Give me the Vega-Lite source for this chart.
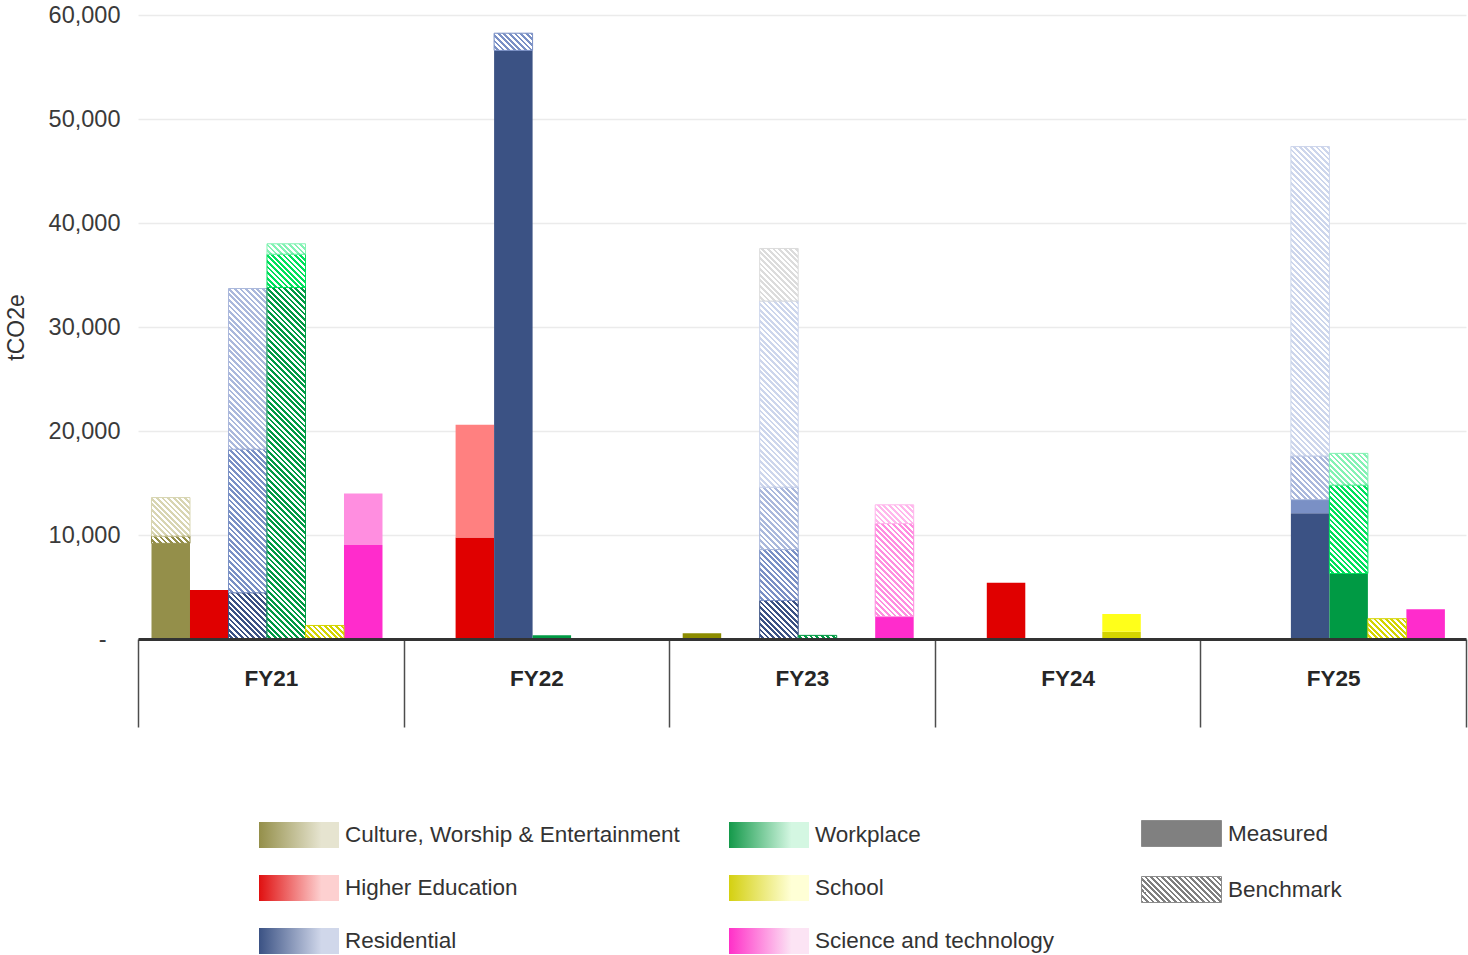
{
  "$schema": "https://vega.github.io/schema/vega-lite/v6.json",
  "width": 1328,
  "height": 624,
  "autosize": {"type": "none"},
  "padding": {"left": 138, "top": 15, "right": 2, "bottom": 316},
  "background": "white",
  "config": {
    "view": {"stroke": null},
    "font": "Liberation Sans",
    "axis": {"labelFont": "Liberation Sans", "titleFont": "Liberation Sans"},
    "legend": {
      "labelFont": "Liberation Sans",
      "labelFontSize": 22.5,
      "labelColor": "#333333",
      "padding": 0,
      "labelOffset": 6,
      "labelLimit": 500,
      "symbolOffset": 0
    }
  },
  "params": [
    {
      "name": "hatchStops",
      "value": [
        {"offset":0,"color":"#fff"},{"offset":0.007,"color":"#fff"},{"offset":0.007,"color":"#fff0"},{"offset":0.014,"color":"#fff0"},
        {"offset":0.014,"color":"#fff"},{"offset":0.021,"color":"#fff"},{"offset":0.021,"color":"#fff0"},{"offset":0.028,"color":"#fff0"},
        {"offset":0.028,"color":"#fff"},{"offset":0.035,"color":"#fff"},{"offset":0.035,"color":"#fff0"},{"offset":0.042,"color":"#fff0"},
        {"offset":0.042,"color":"#fff"},{"offset":0.049,"color":"#fff"},{"offset":0.049,"color":"#fff0"},{"offset":0.056,"color":"#fff0"},
        {"offset":0.056,"color":"#fff"},{"offset":0.063,"color":"#fff"},{"offset":0.063,"color":"#fff0"},{"offset":0.07,"color":"#fff0"},
        {"offset":0.07,"color":"#fff"},{"offset":0.077,"color":"#fff"},{"offset":0.077,"color":"#fff0"},{"offset":0.084,"color":"#fff0"},
        {"offset":0.084,"color":"#fff"},{"offset":0.091,"color":"#fff"},{"offset":0.091,"color":"#fff0"},{"offset":0.098,"color":"#fff0"},
        {"offset":0.098,"color":"#fff"},{"offset":0.105,"color":"#fff"},{"offset":0.105,"color":"#fff0"},{"offset":0.112,"color":"#fff0"},
        {"offset":0.112,"color":"#fff"},{"offset":0.119,"color":"#fff"},{"offset":0.119,"color":"#fff0"},{"offset":0.126,"color":"#fff0"},
        {"offset":0.126,"color":"#fff"},{"offset":0.133,"color":"#fff"},{"offset":0.133,"color":"#fff0"},{"offset":0.14,"color":"#fff0"},
        {"offset":0.14,"color":"#fff"},{"offset":0.147,"color":"#fff"},{"offset":0.147,"color":"#fff0"},{"offset":0.154,"color":"#fff0"},
        {"offset":0.154,"color":"#fff"},{"offset":0.161,"color":"#fff"},{"offset":0.161,"color":"#fff0"},{"offset":0.168,"color":"#fff0"},
        {"offset":0.168,"color":"#fff"},{"offset":0.175,"color":"#fff"},{"offset":0.175,"color":"#fff0"},{"offset":0.182,"color":"#fff0"},
        {"offset":0.182,"color":"#fff"},{"offset":0.189,"color":"#fff"},{"offset":0.189,"color":"#fff0"},{"offset":0.196,"color":"#fff0"},
        {"offset":0.196,"color":"#fff"},{"offset":0.203,"color":"#fff"},{"offset":0.203,"color":"#fff0"},{"offset":0.21,"color":"#fff0"},
        {"offset":0.21,"color":"#fff"},{"offset":0.217,"color":"#fff"},{"offset":0.217,"color":"#fff0"},{"offset":0.224,"color":"#fff0"},
        {"offset":0.224,"color":"#fff"},{"offset":0.231,"color":"#fff"},{"offset":0.231,"color":"#fff0"},{"offset":0.238,"color":"#fff0"},
        {"offset":0.238,"color":"#fff"},{"offset":0.245,"color":"#fff"},{"offset":0.245,"color":"#fff0"},{"offset":0.252,"color":"#fff0"},
        {"offset":0.252,"color":"#fff"},{"offset":0.259,"color":"#fff"},{"offset":0.259,"color":"#fff0"},{"offset":0.266,"color":"#fff0"},
        {"offset":0.266,"color":"#fff"},{"offset":0.273,"color":"#fff"},{"offset":0.273,"color":"#fff0"},{"offset":0.28,"color":"#fff0"},
        {"offset":0.28,"color":"#fff"},{"offset":0.287,"color":"#fff"},{"offset":0.287,"color":"#fff0"},{"offset":0.294,"color":"#fff0"},
        {"offset":0.294,"color":"#fff"},{"offset":0.301,"color":"#fff"},{"offset":0.301,"color":"#fff0"},{"offset":0.308,"color":"#fff0"},
        {"offset":0.308,"color":"#fff"},{"offset":0.315,"color":"#fff"},{"offset":0.315,"color":"#fff0"},{"offset":0.322,"color":"#fff0"},
        {"offset":0.322,"color":"#fff"},{"offset":0.329,"color":"#fff"},{"offset":0.329,"color":"#fff0"},{"offset":0.336,"color":"#fff0"},
        {"offset":0.336,"color":"#fff"},{"offset":0.343,"color":"#fff"},{"offset":0.343,"color":"#fff0"},{"offset":0.35,"color":"#fff0"},
        {"offset":0.35,"color":"#fff"},{"offset":0.357,"color":"#fff"},{"offset":0.357,"color":"#fff0"},{"offset":0.364,"color":"#fff0"},
        {"offset":0.364,"color":"#fff"},{"offset":0.371,"color":"#fff"},{"offset":0.371,"color":"#fff0"},{"offset":0.378,"color":"#fff0"},
        {"offset":0.378,"color":"#fff"},{"offset":0.385,"color":"#fff"},{"offset":0.385,"color":"#fff0"},{"offset":0.392,"color":"#fff0"},
        {"offset":0.392,"color":"#fff"},{"offset":0.399,"color":"#fff"},{"offset":0.399,"color":"#fff0"},{"offset":0.406,"color":"#fff0"},
        {"offset":0.406,"color":"#fff"},{"offset":0.413,"color":"#fff"},{"offset":0.413,"color":"#fff0"},{"offset":0.42,"color":"#fff0"},
        {"offset":0.42,"color":"#fff"},{"offset":0.427,"color":"#fff"},{"offset":0.427,"color":"#fff0"},{"offset":0.434,"color":"#fff0"},
        {"offset":0.434,"color":"#fff"},{"offset":0.441,"color":"#fff"},{"offset":0.441,"color":"#fff0"},{"offset":0.448,"color":"#fff0"},
        {"offset":0.448,"color":"#fff"},{"offset":0.455,"color":"#fff"},{"offset":0.455,"color":"#fff0"},{"offset":0.462,"color":"#fff0"},
        {"offset":0.462,"color":"#fff"},{"offset":0.469,"color":"#fff"},{"offset":0.469,"color":"#fff0"},{"offset":0.476,"color":"#fff0"},
        {"offset":0.476,"color":"#fff"},{"offset":0.483,"color":"#fff"},{"offset":0.483,"color":"#fff0"},{"offset":0.49,"color":"#fff0"},
        {"offset":0.49,"color":"#fff"},{"offset":0.497,"color":"#fff"},{"offset":0.497,"color":"#fff0"},{"offset":0.504,"color":"#fff0"},
        {"offset":0.504,"color":"#fff"},{"offset":0.511,"color":"#fff"},{"offset":0.511,"color":"#fff0"},{"offset":0.518,"color":"#fff0"},
        {"offset":0.518,"color":"#fff"},{"offset":0.525,"color":"#fff"},{"offset":0.525,"color":"#fff0"},{"offset":0.532,"color":"#fff0"},
        {"offset":0.532,"color":"#fff"},{"offset":0.539,"color":"#fff"},{"offset":0.539,"color":"#fff0"},{"offset":0.546,"color":"#fff0"},
        {"offset":0.546,"color":"#fff"},{"offset":0.553,"color":"#fff"},{"offset":0.553,"color":"#fff0"},{"offset":0.56,"color":"#fff0"},
        {"offset":0.56,"color":"#fff"},{"offset":0.567,"color":"#fff"},{"offset":0.567,"color":"#fff0"},{"offset":0.574,"color":"#fff0"},
        {"offset":0.574,"color":"#fff"},{"offset":0.581,"color":"#fff"},{"offset":0.581,"color":"#fff0"},{"offset":0.588,"color":"#fff0"},
        {"offset":0.588,"color":"#fff"},{"offset":0.595,"color":"#fff"},{"offset":0.595,"color":"#fff0"},{"offset":0.602,"color":"#fff0"},
        {"offset":0.602,"color":"#fff"},{"offset":0.609,"color":"#fff"},{"offset":0.609,"color":"#fff0"},{"offset":0.616,"color":"#fff0"},
        {"offset":0.616,"color":"#fff"},{"offset":0.623,"color":"#fff"},{"offset":0.623,"color":"#fff0"},{"offset":0.63,"color":"#fff0"},
        {"offset":0.63,"color":"#fff"},{"offset":0.637,"color":"#fff"},{"offset":0.637,"color":"#fff0"},{"offset":0.644,"color":"#fff0"},
        {"offset":0.644,"color":"#fff"},{"offset":0.651,"color":"#fff"},{"offset":0.651,"color":"#fff0"},{"offset":0.658,"color":"#fff0"},
        {"offset":0.658,"color":"#fff"},{"offset":0.665,"color":"#fff"},{"offset":0.665,"color":"#fff0"},{"offset":0.672,"color":"#fff0"},
        {"offset":0.672,"color":"#fff"},{"offset":0.679,"color":"#fff"},{"offset":0.679,"color":"#fff0"},{"offset":0.686,"color":"#fff0"},
        {"offset":0.686,"color":"#fff"},{"offset":0.693,"color":"#fff"},{"offset":0.693,"color":"#fff0"},{"offset":0.7,"color":"#fff0"},
        {"offset":0.7,"color":"#fff"},{"offset":0.707,"color":"#fff"},{"offset":0.707,"color":"#fff0"},{"offset":0.714,"color":"#fff0"},
        {"offset":0.714,"color":"#fff"},{"offset":0.721,"color":"#fff"},{"offset":0.721,"color":"#fff0"},{"offset":0.728,"color":"#fff0"},
        {"offset":0.728,"color":"#fff"},{"offset":0.735,"color":"#fff"},{"offset":0.735,"color":"#fff0"},{"offset":0.742,"color":"#fff0"},
        {"offset":0.742,"color":"#fff"},{"offset":0.749,"color":"#fff"},{"offset":0.749,"color":"#fff0"},{"offset":0.756,"color":"#fff0"},
        {"offset":0.756,"color":"#fff"},{"offset":0.763,"color":"#fff"},{"offset":0.763,"color":"#fff0"},{"offset":0.77,"color":"#fff0"},
        {"offset":0.77,"color":"#fff"},{"offset":0.777,"color":"#fff"},{"offset":0.777,"color":"#fff0"},{"offset":0.784,"color":"#fff0"},
        {"offset":0.784,"color":"#fff"},{"offset":0.791,"color":"#fff"},{"offset":0.791,"color":"#fff0"},{"offset":0.798,"color":"#fff0"},
        {"offset":0.798,"color":"#fff"},{"offset":0.805,"color":"#fff"},{"offset":0.805,"color":"#fff0"},{"offset":0.812,"color":"#fff0"},
        {"offset":0.812,"color":"#fff"},{"offset":0.819,"color":"#fff"},{"offset":0.819,"color":"#fff0"},{"offset":0.826,"color":"#fff0"},
        {"offset":0.826,"color":"#fff"},{"offset":0.833,"color":"#fff"},{"offset":0.833,"color":"#fff0"},{"offset":0.84,"color":"#fff0"},
        {"offset":0.84,"color":"#fff"},{"offset":0.847,"color":"#fff"},{"offset":0.847,"color":"#fff0"},{"offset":0.854,"color":"#fff0"},
        {"offset":0.854,"color":"#fff"},{"offset":0.861,"color":"#fff"},{"offset":0.861,"color":"#fff0"},{"offset":0.868,"color":"#fff0"},
        {"offset":0.868,"color":"#fff"},{"offset":0.875,"color":"#fff"},{"offset":0.875,"color":"#fff0"},{"offset":0.882,"color":"#fff0"},
        {"offset":0.882,"color":"#fff"},{"offset":0.889,"color":"#fff"},{"offset":0.889,"color":"#fff0"},{"offset":0.896,"color":"#fff0"},
        {"offset":0.896,"color":"#fff"},{"offset":0.903,"color":"#fff"},{"offset":0.903,"color":"#fff0"},{"offset":0.91,"color":"#fff0"},
        {"offset":0.91,"color":"#fff"},{"offset":0.917,"color":"#fff"},{"offset":0.917,"color":"#fff0"},{"offset":0.924,"color":"#fff0"},
        {"offset":0.924,"color":"#fff"},{"offset":0.931,"color":"#fff"},{"offset":0.931,"color":"#fff0"},{"offset":0.938,"color":"#fff0"},
        {"offset":0.938,"color":"#fff"},{"offset":0.945,"color":"#fff"},{"offset":0.945,"color":"#fff0"},{"offset":0.952,"color":"#fff0"},
        {"offset":0.952,"color":"#fff"},{"offset":0.959,"color":"#fff"},{"offset":0.959,"color":"#fff0"},{"offset":0.966,"color":"#fff0"},
        {"offset":0.966,"color":"#fff"},{"offset":0.973,"color":"#fff"},{"offset":0.973,"color":"#fff0"},{"offset":0.98,"color":"#fff0"},
        {"offset":0.98,"color":"#fff"},{"offset":0.987,"color":"#fff"},{"offset":0.987,"color":"#fff0"},{"offset":0.994,"color":"#fff0"},
        {"offset":0.994,"color":"#fff"},{"offset":1,"color":"#fff"}
      ]
    },
    {
      "name": "legendHatch",
      "value": [
        {"offset":0,"color":"#7f7f7f"},{"offset":0.025,"color":"#7f7f7f"},{"offset":0.025,"color":"#fff"},{"offset":0.05,"color":"#fff"},
        {"offset":0.05,"color":"#7f7f7f"},{"offset":0.075,"color":"#7f7f7f"},{"offset":0.075,"color":"#fff"},{"offset":0.1,"color":"#fff"},
        {"offset":0.1,"color":"#7f7f7f"},{"offset":0.125,"color":"#7f7f7f"},{"offset":0.125,"color":"#fff"},{"offset":0.15,"color":"#fff"},
        {"offset":0.15,"color":"#7f7f7f"},{"offset":0.175,"color":"#7f7f7f"},{"offset":0.175,"color":"#fff"},{"offset":0.2,"color":"#fff"},
        {"offset":0.2,"color":"#7f7f7f"},{"offset":0.225,"color":"#7f7f7f"},{"offset":0.225,"color":"#fff"},{"offset":0.25,"color":"#fff"},
        {"offset":0.25,"color":"#7f7f7f"},{"offset":0.275,"color":"#7f7f7f"},{"offset":0.275,"color":"#fff"},{"offset":0.3,"color":"#fff"},
        {"offset":0.3,"color":"#7f7f7f"},{"offset":0.325,"color":"#7f7f7f"},{"offset":0.325,"color":"#fff"},{"offset":0.35,"color":"#fff"},
        {"offset":0.35,"color":"#7f7f7f"},{"offset":0.375,"color":"#7f7f7f"},{"offset":0.375,"color":"#fff"},{"offset":0.4,"color":"#fff"},
        {"offset":0.4,"color":"#7f7f7f"},{"offset":0.425,"color":"#7f7f7f"},{"offset":0.425,"color":"#fff"},{"offset":0.45,"color":"#fff"},
        {"offset":0.45,"color":"#7f7f7f"},{"offset":0.475,"color":"#7f7f7f"},{"offset":0.475,"color":"#fff"},{"offset":0.5,"color":"#fff"},
        {"offset":0.5,"color":"#7f7f7f"},{"offset":0.525,"color":"#7f7f7f"},{"offset":0.525,"color":"#fff"},{"offset":0.55,"color":"#fff"},
        {"offset":0.55,"color":"#7f7f7f"},{"offset":0.575,"color":"#7f7f7f"},{"offset":0.575,"color":"#fff"},{"offset":0.6,"color":"#fff"},
        {"offset":0.6,"color":"#7f7f7f"},{"offset":0.625,"color":"#7f7f7f"},{"offset":0.625,"color":"#fff"},{"offset":0.65,"color":"#fff"},
        {"offset":0.65,"color":"#7f7f7f"},{"offset":0.675,"color":"#7f7f7f"},{"offset":0.675,"color":"#fff"},{"offset":0.7,"color":"#fff"},
        {"offset":0.7,"color":"#7f7f7f"},{"offset":0.725,"color":"#7f7f7f"},{"offset":0.725,"color":"#fff"},{"offset":0.75,"color":"#fff"},
        {"offset":0.75,"color":"#7f7f7f"},{"offset":0.775,"color":"#7f7f7f"},{"offset":0.775,"color":"#fff"},{"offset":0.8,"color":"#fff"},
        {"offset":0.8,"color":"#7f7f7f"},{"offset":0.825,"color":"#7f7f7f"},{"offset":0.825,"color":"#fff"},{"offset":0.85,"color":"#fff"},
        {"offset":0.85,"color":"#7f7f7f"},{"offset":0.875,"color":"#7f7f7f"},{"offset":0.875,"color":"#fff"},{"offset":0.9,"color":"#fff"},
        {"offset":0.9,"color":"#7f7f7f"},{"offset":0.925,"color":"#7f7f7f"},{"offset":0.925,"color":"#fff"},{"offset":0.95,"color":"#fff"},
        {"offset":0.95,"color":"#7f7f7f"},{"offset":0.975,"color":"#7f7f7f"},{"offset":0.975,"color":"#fff"},{"offset":1,"color":"#fff"}
      ]
    }
  ],
  "data": {
    "values": [
      {"fy": "FY21", "sector": "Culture, Worship & Entertainment", "series": "Culture, Worship & Entertainment 1", "basis": "Measured", "tco2e": 9200},
      {"fy": "FY21", "sector": "Culture, Worship & Entertainment", "series": "Culture, Worship & Entertainment 1", "basis": "Benchmark", "tco2e": 700},
      {"fy": "FY21", "sector": "Culture, Worship & Entertainment", "series": "Culture, Worship & Entertainment 2", "basis": "Benchmark", "tco2e": 3700},
      {"fy": "FY21", "sector": "Higher Education", "series": "Higher Education 1", "basis": "Measured", "tco2e": 4700},
      {"fy": "FY21", "sector": "Residential", "series": "Residential 1", "basis": "Benchmark", "tco2e": 4450},
      {"fy": "FY21", "sector": "Residential", "series": "Residential 2", "basis": "Benchmark", "tco2e": 13800},
      {"fy": "FY21", "sector": "Residential", "series": "Residential 3", "basis": "Benchmark", "tco2e": 15450},
      {"fy": "FY21", "sector": "Workplace", "series": "Workplace 1", "basis": "Benchmark", "tco2e": 33800},
      {"fy": "FY21", "sector": "Workplace", "series": "Workplace 2", "basis": "Benchmark", "tco2e": 3200},
      {"fy": "FY21", "sector": "Workplace", "series": "Workplace 3", "basis": "Benchmark", "tco2e": 1000},
      {"fy": "FY21", "sector": "School", "series": "School 1", "basis": "Benchmark", "tco2e": 1300},
      {"fy": "FY21", "sector": "Science and technology", "series": "Science and technology 1", "basis": "Measured", "tco2e": 9050},
      {"fy": "FY21", "sector": "Science and technology", "series": "Science and technology 2", "basis": "Measured", "tco2e": 4950},

      {"fy": "FY22", "sector": "Higher Education", "series": "Higher Education 1", "basis": "Measured", "tco2e": 9750},
      {"fy": "FY22", "sector": "Higher Education", "series": "Higher Education 2", "basis": "Measured", "tco2e": 10850},
      {"fy": "FY22", "sector": "Residential", "series": "Residential 1", "basis": "Measured", "tco2e": 56600},
      {"fy": "FY22", "sector": "Residential", "series": "Residential 2", "basis": "Benchmark", "tco2e": 1650},
      {"fy": "FY22", "sector": "Workplace", "series": "Workplace 1", "basis": "Measured", "tco2e": 350},

      {"fy": "FY23", "sector": "Culture, Worship & Entertainment", "series": "Culture, Worship & Entertainment 3", "basis": "Measured", "tco2e": 550},
      {"fy": "FY23", "sector": "Residential", "series": "Residential 1", "basis": "Benchmark", "tco2e": 3700},
      {"fy": "FY23", "sector": "Residential", "series": "Residential 2", "basis": "Benchmark", "tco2e": 4900},
      {"fy": "FY23", "sector": "Residential", "series": "Residential 3", "basis": "Benchmark", "tco2e": 6000},
      {"fy": "FY23", "sector": "Residential", "series": "Residential 4", "basis": "Benchmark", "tco2e": 17900},
      {"fy": "FY23", "sector": "Residential", "series": "Residential 5", "basis": "Benchmark", "tco2e": 5050},
      {"fy": "FY23", "sector": "Workplace", "series": "Workplace 1", "basis": "Benchmark", "tco2e": 350},
      {"fy": "FY23", "sector": "Science and technology", "series": "Science and technology 1", "basis": "Measured", "tco2e": 2150},
      {"fy": "FY23", "sector": "Science and technology", "series": "Science and technology 2", "basis": "Benchmark", "tco2e": 8950},
      {"fy": "FY23", "sector": "Science and technology", "series": "Science and technology 3", "basis": "Benchmark", "tco2e": 1800},

      {"fy": "FY24", "sector": "Higher Education", "series": "Higher Education 1", "basis": "Measured", "tco2e": 5400},
      {"fy": "FY24", "sector": "School", "series": "School 1", "basis": "Measured", "tco2e": 700},
      {"fy": "FY24", "sector": "School", "series": "School 2", "basis": "Measured", "tco2e": 1700},

      {"fy": "FY25", "sector": "Residential", "series": "Residential 1", "basis": "Measured", "tco2e": 12100},
      {"fy": "FY25", "sector": "Residential", "series": "Residential 2", "basis": "Measured", "tco2e": 1300},
      {"fy": "FY25", "sector": "Residential", "series": "Residential 3", "basis": "Benchmark", "tco2e": 4200},
      {"fy": "FY25", "sector": "Residential", "series": "Residential 4", "basis": "Benchmark", "tco2e": 29750},
      {"fy": "FY25", "sector": "Workplace", "series": "Workplace 1", "basis": "Measured", "tco2e": 6300},
      {"fy": "FY25", "sector": "Workplace", "series": "Workplace 2", "basis": "Benchmark", "tco2e": 8500},
      {"fy": "FY25", "sector": "Workplace", "series": "Workplace 3", "basis": "Benchmark", "tco2e": 3050},
      {"fy": "FY25", "sector": "School", "series": "School 1", "basis": "Benchmark", "tco2e": 1950},
      {"fy": "FY25", "sector": "Science and technology", "series": "Science and technology 1", "basis": "Measured", "tco2e": 2850}
    ]
  },
  "transform": [
    {
      "stack": "tco2e",
      "groupby": ["fy", "sector"],
      "sort": [
        {"field": "series", "order": "ascending"},
        {"field": "basis", "order": "descending"}
      ],
      "as": ["lo", "hi"]
    }
  ],
  "encoding": {
    "x": {
      "field": "fy",
      "type": "nominal",
      "scale": {"paddingInner": 0, "paddingOuter": 0},
      "axis": {
        "title": null,
        "zindex": 1,
        "domainColor": "#333333",
        "domainWidth": 3,
        "ticks": true,
        "tickBand": "extent",
        "tickSize": 88,
        "tickColor": "#4d4d4d",
        "tickWidth": 1.5,
        "labelAngle": 0,
        "labelFontSize": 22.5,
        "labelFontWeight": "bold",
        "labelColor": "#262626",
        "labelBaseline": "middle",
        "labelPadding": -49
      }
    },
    "xOffset": {
      "field": "sector",
      "type": "nominal",
      "scale": {
        "domain": ["Culture, Worship & Entertainment", "Higher Education", "Residential", "Workplace", "School", "Science and technology"],
        "paddingInner": 0,
        "paddingOuter": 0.4494,
        "align": 0.39
      }
    },
    "y": {
      "field": "lo",
      "type": "quantitative",
      "scale": {"domain": [0, 60000], "nice": false},
      "axis": {
        "title": "tCO2e",
        "titleFontSize": 23,
        "titleFontWeight": "normal",
        "titleColor": "#333333",
        "titlePadding": 20,
        "values": [0, 10000, 20000, 30000, 40000, 50000, 60000],
        "labelExpr": "datum.value == 0 ? '-' : format(datum.value, ',')",
        "labelFontSize": 23.5,
        "labelColor": "#3a3a3a",
        "labelPadding": {"condition": {"test": "datum.value == 0", "value": 32}, "value": 18},
        "ticks": false,
        "domain": false,
        "grid": true,
        "gridColor": "#ebebeb",
        "gridWidth": 1.5
      }
    },
    "y2": {"field": "hi"}
  },
  "resolve": {"scale": {"color": "independent"}},
  "layer": [
    {
      "mark": {"type": "bar"},
      "encoding": {
        "color": {
          "field": "series",
          "type": "nominal",
          "legend": null,
          "scale": {
            "domain": [
              "Culture, Worship & Entertainment 1", "Culture, Worship & Entertainment 2", "Culture, Worship & Entertainment 3",
              "Higher Education 1", "Higher Education 2",
              "Residential 1", "Residential 2", "Residential 3", "Residential 4", "Residential 5",
              "Workplace 1", "Workplace 2", "Workplace 3",
              "School 1", "School 2",
              "Science and technology 1", "Science and technology 2", "Science and technology 3"
            ],
            "range": [
              "#948f4a", "#d8d5b2", "#8c8c00",
              "#e00000", "#ff8080",
              "#3b5284", "#7a90c5", "#aab8dc", "#cdd6ec", "#dcdcdc",
              "#009a44", "#00e05c", "#84f2b4",
              "#d4d400", "#ffff1a",
              "#ff2ccc", "#ff8ee0", "#ffb8ec"
            ]
          }
        }
      }
    },
    {
      "transform": [{"filter": "datum.basis === 'Benchmark'"}],
      "mark": {
        "type": "bar",
        "strokeWidth": 1,
        "fill": {"expr": "{gradient: 'linear', x1: 0, y1: 1, x2: 15400 / (1482.25 + pow(0.0104 * (datum.hi - datum.lo), 2)), y2: 1 - 4.16 * (datum.hi - datum.lo) / (1482.25 + pow(0.0104 * (datum.hi - datum.lo), 2)), stops: hatchStops}"}
      },
      "encoding": {
        "stroke": {
          "field": "series",
          "type": "nominal",
          "legend": null,
          "scale": {
            "domain": [
              "Culture, Worship & Entertainment 1", "Culture, Worship & Entertainment 2", "Culture, Worship & Entertainment 3",
              "Higher Education 1", "Higher Education 2",
              "Residential 1", "Residential 2", "Residential 3", "Residential 4", "Residential 5",
              "Workplace 1", "Workplace 2", "Workplace 3",
              "School 1", "School 2",
              "Science and technology 1", "Science and technology 2", "Science and technology 3"
            ],
            "range": [
              "#948f4a", "#d8d5b2", "#8c8c00",
              "#e00000", "#ff8080",
              "#3b5284", "#7a90c5", "#aab8dc", "#cdd6ec", "#dcdcdc",
              "#009a44", "#00e05c", "#84f2b4",
              "#d4d400", "#ffff1a",
              "#ff2ccc", "#ff8ee0", "#ffb8ec"
            ]
          }
        }
      }
    },
    {
      "mark": {"type": "point", "filled": true, "opacity": 0, "shape": "M-1,-0.325H1V0.325H-1Z"},
      "encoding": {
        "fill": {
          "field": "sector",
          "type": "nominal",
          "scale": {
            "domain": ["Culture, Worship & Entertainment", "Higher Education", "Residential", "Workplace", "School", "Science and technology"],
            "range": [
              {"expr": "{gradient: 'linear', x1: 0, y1: 0, x2: 1, y2: 0, stops: [{offset: 0, color: '#948f4a'}, {offset: 0.78, color: '#e6e4d0'}, {offset: 1, color: '#e6e4d0'}]}"},
              {"expr": "{gradient: 'linear', x1: 0, y1: 0, x2: 1, y2: 0, stops: [{offset: 0, color: '#e01010'}, {offset: 0.78, color: '#fdd0d0'}, {offset: 1, color: '#fdd0d0'}]}"},
              {"expr": "{gradient: 'linear', x1: 0, y1: 0, x2: 1, y2: 0, stops: [{offset: 0, color: '#3b5284'}, {offset: 0.78, color: '#d0d7ea'}, {offset: 1, color: '#d0d7ea'}]}"},
              {"expr": "{gradient: 'linear', x1: 0, y1: 0, x2: 1, y2: 0, stops: [{offset: 0, color: '#14994a'}, {offset: 0.78, color: '#d4f7e2'}, {offset: 1, color: '#d4f7e2'}]}"},
              {"expr": "{gradient: 'linear', x1: 0, y1: 0, x2: 1, y2: 0, stops: [{offset: 0, color: '#d4d010'}, {offset: 0.78, color: '#ffffd6'}, {offset: 1, color: '#ffffd6'}]}"},
              {"expr": "{gradient: 'linear', x1: 0, y1: 0, x2: 1, y2: 0, stops: [{offset: 0, color: '#ff30c8'}, {offset: 0.78, color: '#fce4f4'}, {offset: 1, color: '#fce4f4'}]}"}
            ]
          },
          "legend": {
            "title": null,
            "orient": "none",
            "legendX": 121,
            "legendY": 780,
            "columns": 2,
            "columnPadding": 49,
            "rowPadding": -7,
            "gridAlign": "each",
            "symbolType": "M-1,-0.325H1V0.325H-1Z",
            "symbolSize": 6400,
            "symbolStrokeWidth": 0,
            "symbolOpacity": 1
          }
        }
      }
    },
    {
      "mark": {"type": "point", "filled": true, "opacity": 0, "shape": "M-1,-0.325H1V0.325H-1Z"},
      "encoding": {
        "color": {
          "field": "basis",
          "type": "nominal",
          "scale": {
            "domain": ["Measured", "Benchmark"],
            "range": [
              "#808080",
              {"expr": "{gradient: 'linear', x1: 0, y1: 1, x2: 1.26625, y2: 0.58847, stops: legendHatch}"}
            ]
          },
          "legend": {
            "title": null,
            "orient": "none",
            "legendX": 1003,
            "legendY": 778,
            "columns": 1,
            "gridAlign": "each",
            "rowPadding": -7,
            "symbolType": "M-1,-0.325H1V0.325H-1Z",
            "symbolSize": 6400,
            "symbolStrokeColor": "#8c8c8c",
            "symbolStrokeWidth": 1,
            "symbolOpacity": 1
          }
        }
      }
    }
  ]
}
